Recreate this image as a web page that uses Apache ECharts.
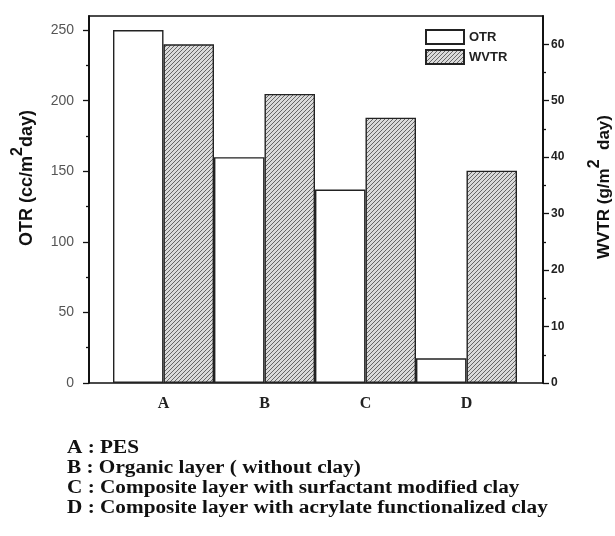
<!DOCTYPE html>
<html>
<head>
<meta charset="utf-8">
<script src="https://cdn.jsdelivr.net/npm/echarts@6/dist/echarts.min.js"></script>
<style>html,body{margin:0;padding:0;background:#fff;}#c{width:615px;height:536px;}</style>
</head>
<body>
<div id="c"></div>
<script>
var categories = ['A', 'B', 'C', 'D'];
var otrValues = [250, 160, 137, 17.5];
var wvtrValues = [60, 51.2, 47, 37.6];
var leftTicks = [0, 50, 100, 150, 200, 250];
var leftMinor = [25, 75, 125, 175, 225];
var rightTicks = [0, 10, 20, 30, 40, 50, 60];
var rightMinor = [5, 15, 25, 35, 45, 55];
var descriptions = [
  'A : PES',
  'B : Organic layer ( without clay)',
  'C : Composite layer with surfactant modified clay',
  'D : Composite layer with acrylate functionalized clay'
];

function hatch() {
  var c = document.createElement('canvas');
  c.width = 4; c.height = 4;
  var g = c.getContext('2d');
  g.fillStyle = '#dadada';
  g.fillRect(0, 0, 4, 4);
  g.strokeStyle = '#666';
  g.lineWidth = 1.0;
  g.beginPath();
  g.moveTo(-1, 5); g.lineTo(5, -1);
  g.moveTo(-1, 1); g.lineTo(1, -1);
  g.moveTo(3, 5); g.lineTo(5, 3);
  g.stroke();
  return c;
}

var chart = echarts.init(document.getElementById('c'), null, {renderer: 'canvas'});
var sans = 'Liberation Sans, Arial, sans-serif';
var serif = 'Liberation Serif, Times New Roman, serif';
var LMAX = 260, RMAX = 65;

function frameAxis(pos, max, ticks, len, labels, labelStyle) {
  return {
    type: 'value', gridIndex: 0, position: pos, min: 0, max: max,
    axisLine: {show: true, lineStyle: {color: '#111', width: 1.5}},
    splitLine: {show: false},
    axisTick: {show: true, inside: false, length: len, customValues: ticks, lineStyle: {color: '#111', width: 1.3}},
    axisLabel: labels ? Object.assign({show: true, customValues: ticks}, labelStyle) : {show: false}
  };
}

var descGraphics = descriptions.map(function (t, i) {
  return {
    type: 'text', x: 67, y: 448 + i * 20.2, scaleX: 1.18,
    style: {text: t, font: 'bold 18px ' + serif, fill: '#111', align: 'left', verticalAlign: 'middle'}
  };
});

var option = {
  animation: false,
  backgroundColor: '#fff',
  grid: [
    {left: 89, right: 72, top: 16, bottom: 153, show: true, borderColor: '#111', borderWidth: 1.5, backgroundColor: 'transparent'},
    {left: 113, right: 98, top: 16, bottom: 153}
  ],
  xAxis: [
    {type: 'value', gridIndex: 0, show: false, min: 0, max: 1},
    {type: 'category', gridIndex: 1, data: categories, boundaryGap: true,
     axisLine: {show: false}, axisTick: {show: false},
     axisLabel: {margin: 13, fontFamily: serif, fontWeight: 'bold', fontSize: 16, color: '#222'}}
  ],
  yAxis: [
    frameAxis('left', LMAX, leftTicks, 6, true, {margin: 15, fontFamily: sans, fontSize: 14, color: '#555'}),
    frameAxis('right', RMAX, rightTicks, 6, true, {margin: 8, fontFamily: sans, fontSize: 12, fontWeight: 'bold', color: '#222'}),
    {type: 'value', gridIndex: 1, min: 0, max: LMAX, show: false},
    {type: 'value', gridIndex: 1, min: 0, max: RMAX, show: false},
    frameAxis('left', LMAX, leftMinor, 3, false),
    frameAxis('right', RMAX, rightMinor, 3, false)
  ],
  legend: {
    orient: 'vertical', left: 425, top: 29, padding: 0, itemWidth: 38, itemHeight: 14, itemGap: 4,
    icon: 'rect',
    textStyle: {fontFamily: sans, fontWeight: 'bold', fontSize: 13, color: '#222'},
    data: ['OTR', 'WVTR']
  },
  series: [
    {name: 'OTR', type: 'bar', xAxisIndex: 1, yAxisIndex: 2, data: otrValues,
     barGap: 0, barCategoryGap: 0,
     itemStyle: {color: '#fff', borderColor: '#222', borderWidth: 1.4}},
    {name: 'WVTR', type: 'bar', xAxisIndex: 1, yAxisIndex: 3, data: wvtrValues,
     barGap: 0, barCategoryGap: 0,
     itemStyle: {color: {image: hatch(), repeat: 'repeat'}, borderColor: '#222', borderWidth: 1.4}}
  ],
  graphic: [
    {type: 'text', x: 23, y: 178, rotation: Math.PI / 2,
     style: {text: '{a|OTR (cc/m}{s|2}{a|day)}', align: 'center', verticalAlign: 'middle',
       rich: {
         a: {font: 'bold 18px ' + sans, fill: '#111', verticalAlign: 'bottom', lineHeight: 26},
         s: {font: 'bold 16px ' + sans, fill: '#111', verticalAlign: 'top', lineHeight: 26}
       }}},
    {type: 'text', x: 600, y: 187, rotation: Math.PI / 2,
     style: {text: '{a|WVTR (g/m}{s|2}{a|  day)}', align: 'center', verticalAlign: 'middle',
       rich: {
         a: {font: 'bold 17px ' + sans, fill: '#111', verticalAlign: 'bottom', lineHeight: 26},
         s: {font: 'bold 16px ' + sans, fill: '#111', verticalAlign: 'top', lineHeight: 26}
       }}}
  ].concat(descGraphics)
};
chart.setOption(option);
</script>
</body>
</html>
